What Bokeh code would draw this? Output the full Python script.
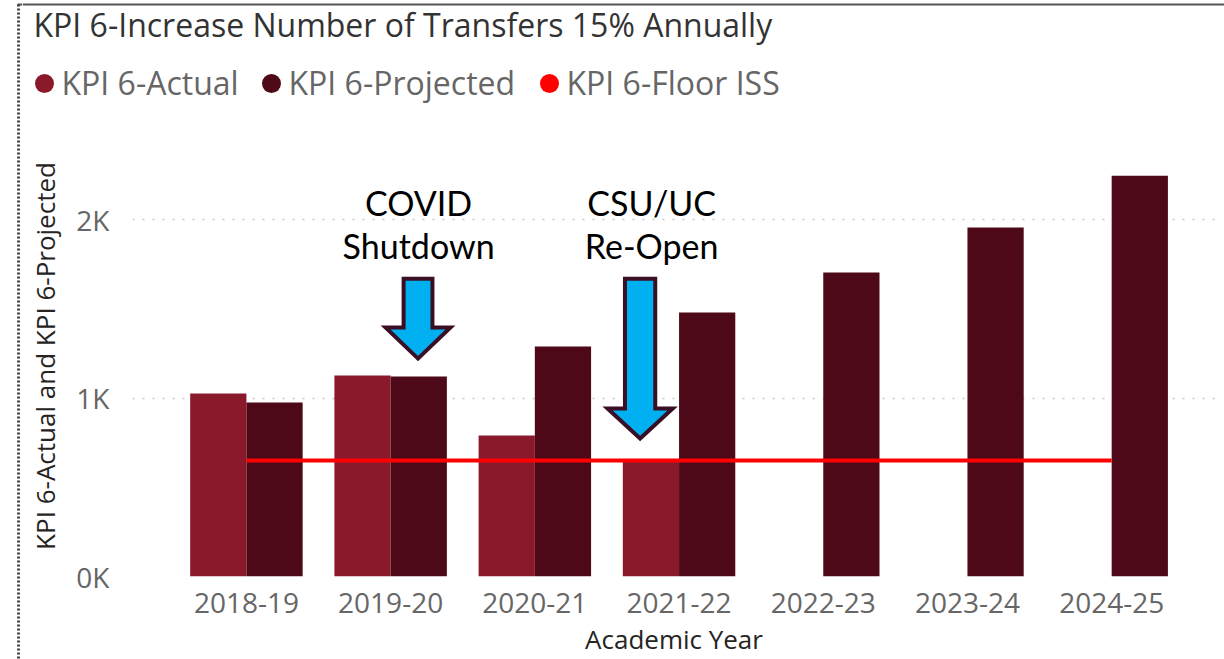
from bokeh.plotting import figure
from bokeh.models import Range1d, FixedTicker, ColumnDataSource
from bokeh.layouts import row, column
from bokeh.embed import file_html
from bokeh.resources import INLINE
from bokeh.core.properties import value

# ---- data ----
years = ["2018-19", "2019-20", "2020-21", "2021-22", "2022-23", "2023-24", "2024-25"]
actual = [1025, 1126, 790, 645, float("nan"), float("nan"), float("nan")]
projected = [975, 1120, 1289, 1479, 1703, 1955, 2246]
floor_iss = [650, 650, 650, 650, 650, 650, 650]
y_ticks = [0, 1000, 2000]
y_tick_labels = ["0K", "1K", "2K"]
series_names = ["KPI 6-Actual", "KPI 6-Projected", "KPI 6-Floor ISS"]
title_text = "KPI 6-Increase Number of Transfers 15% Annually"
notes = [("COVID", "Shutdown"), ("CSU/UC", "Re-Open")]
note_years = ["2019-20", "2021-22"]

# ---- styling ----
C_ACT = "#8A1A2B"
C_PROJ = "#4E0919"
C_FLOOR = "#FF0000"
C_ARROW = "#00B0F0"
C_ARROW_LINE = "#3A0F25"
C_BORDER = "#555555"
FONT_T = "Open Sans"
FONT_AX = "Open Sans"
FONT_NOTE = "Lato"

PAGE_W, PAGE_H = 1224, 659
STRIP_W = 22
HEAD_H = 135
MAIN_W = PAGE_W - STRIP_W
MAIN_H = PAGE_H - HEAD_H


def bare(fig):
    fig.outline_line_color = None
    fig.xgrid.visible = False
    fig.ygrid.visible = False
    fig.background_fill_color = "white"
    fig.border_fill_color = "white"
    fig.frame_align = False
    return fig


# ---- left strip (frame border of the visual) ----
strip = bare(figure(width=STRIP_W, height=PAGE_H, output_backend="svg", toolbar_location=None,
                    x_range=Range1d(0, STRIP_W), y_range=Range1d(PAGE_H, 0),
                    x_axis_type=None, y_axis_type=None, min_border=0))
strip.segment(x0=[17], y0=[4], x1=[STRIP_W], y1=[4], line_color=C_BORDER, line_width=2)
strip.segment(x0=[18], y0=[4], x1=[18], y1=[PAGE_H], line_color="#444444", line_width=3, line_dash="2 2")

# ---- header: title and legend ----
head = bare(figure(width=MAIN_W, height=HEAD_H, output_backend="svg", toolbar_location=None,
                   x_range=Range1d(STRIP_W, PAGE_W), y_range=Range1d(HEAD_H, 0),
                   x_axis_type=None, y_axis_type=None, min_border=0))
head.segment(x0=[STRIP_W], y0=[4], x1=[PAGE_W], y1=[4], line_color=C_BORDER, line_width=2)
head.text(x=[33], y=[24], text=[title_text], text_font=value(FONT_T), text_font_size="32px",
          text_color="#333333", text_baseline="middle", text_align="left")
leg_colors = [C_ACT, C_PROJ, C_FLOOR]
leg_cx = [44, 271, 549]
head.scatter(x=leg_cx, y=[83] * 3, size=19, marker="circle", fill_color=leg_colors, line_color=None)
head.text(x=[c + 17 for c in leg_cx], y=[82] * 3, text=series_names, text_font=value(FONT_T),
          text_font_size="32px", text_color="#666666", text_baseline="middle", text_align="left")

# ---- main chart ----
idx = list(range(len(years)))
bw = 0.39

p = figure(width=MAIN_W, height=MAIN_H, output_backend="svg", toolbar_location=None,
           x_range=Range1d(-0.79, 6.72), y_range=Range1d(0, 2471), title_location=None,
           min_border_left=132 - STRIP_W, min_border_right=9, min_border_top=0, min_border_bottom=83)
p.outline_line_color = None
p.background_fill_color = "white"
p.border_fill_color = "white"
p.frame_align = False

src = ColumnDataSource(dict(
    x_act=[i - bw / 2 for i in idx],
    x_proj=[i + bw / 2 for i in idx],
    actual=actual, projected=projected, x=idx, floor=floor_iss))

p.vbar(x="x_act", top="actual", width=bw, source=src, fill_color=C_ACT, line_color=None)
p.vbar(x="x_proj", top="projected", width=bw, source=src, fill_color=C_PROJ, line_color=None)
p.line(x="x", y="floor", source=src, line_color=C_FLOOR, line_width=4)

# ---- arrows (annotation shapes) ----
arrow_specs = [
    # (year, x offset, shaft half width, head half width, top, head base, tip)
    (note_years[0], 0.19, 0.10, 0.225, 1669, 1395, 1221),
    (note_years[1], -0.27, 0.105, 0.226, 1669, 941, 773),
]
axs, ays = [], []
for yr, off, sw, hw, top, base, tip in arrow_specs:
    c = years.index(yr) + off
    axs.append([c - sw, c + sw, c + sw, c + hw, c, c - hw, c - sw])
    ays.append([top, top, base, base, tip, base, base])
p.patches(axs, ays, fill_color=C_ARROW, line_color=C_ARROW_LINE, line_width=4, line_join="miter")

note_x = [years.index(note_years[0]) + 0.194, years.index(note_years[1]) - 0.19]
for (l1, l2), nx in zip(notes, note_x):
    p.text(x=[nx, nx], y=[2095, 1854], text=[l1, l2], text_align="center", text_baseline="middle",
           text_font=value(FONT_NOTE), text_font_size="34px", text_color="black")

# ---- axes ----
p.xaxis.ticker = FixedTicker(ticks=idx)
p.xaxis.major_label_overrides = {i: y for i, y in zip(idx, years)}
p.yaxis.ticker = FixedTicker(ticks=y_ticks)
p.yaxis.major_label_overrides = {t: l for t, l in zip(y_ticks, y_tick_labels)}
for ax in (p.xaxis[0], p.yaxis[0]):
    ax.axis_line_color = None
    ax.major_tick_line_color = None
    ax.minor_tick_line_color = None
    ax.major_label_text_font = FONT_AX
    ax.major_label_text_font_size = "28px"
    ax.major_label_text_color = "#666666"
    ax.axis_label_text_font = FONT_AX
    ax.axis_label_text_font_size = "26px"
    ax.axis_label_text_font_style = "normal"
    ax.axis_label_text_color = "#252423"
p.xaxis.axis_label = "Academic Year"
p.yaxis.axis_label = "KPI 6-Actual and KPI 6-Projected"
p.yaxis.major_label_standoff = 17
p.xaxis.major_label_standoff = 10
p.xaxis.axis_label_standoff = 5
p.yaxis.axis_label_standoff = 10

p.xgrid.grid_line_color = None
p.ygrid.ticker = FixedTicker(ticks=y_ticks)
p.ygrid.grid_line_color = "#C8C8C8"
p.ygrid.grid_line_dash = "2 8"
p.ygrid.grid_line_width = 1.5

layout = row(strip, column(head, p))
open("out.html", "w").write(file_html(layout, INLINE))
